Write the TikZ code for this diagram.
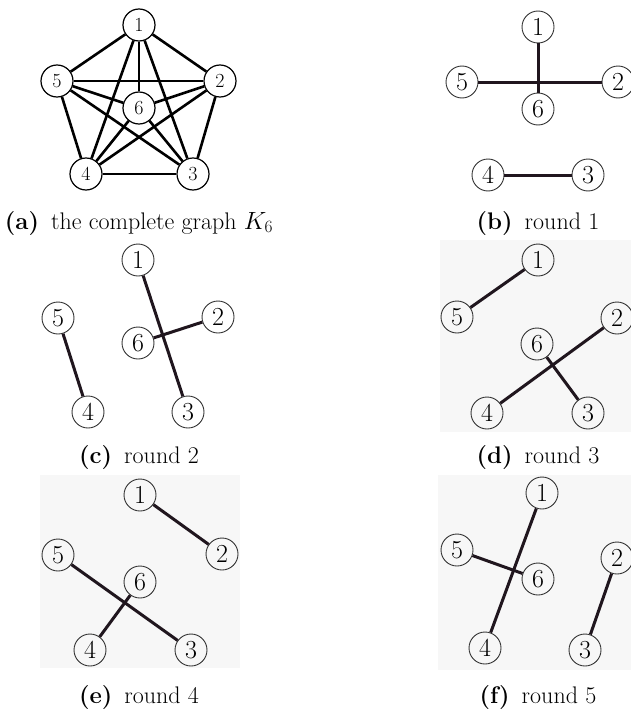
\documentclass[tikz,border=0pt]{standalone}
\definecolor{edgecol}{RGB}{32,22,30}
\definecolor{panelgray}{RGB}{247,247,247}
\newcommand{\sublabel}[1]{\textbf{(#1)}\hspace{0.5em}}
\begin{document}
\begin{tikzpicture}[x=1pt,y=-1pt,
  kv/.style={circle, draw, line width=1.2pt, minimum size=32pt, inner sep=0pt,
             font=\fontsize{20}{20}\selectfont},
  rv/.style={circle, draw=black!80, line width=0.9pt, minimum size=32pt, inner sep=0pt,
             font=\fontsize{26}{26}\selectfont},
  kedge/.style={line width=2.6pt},
  redge/.style={line width=3pt, draw=edgecol},
  subcap/.style={anchor=base, font=\fontsize{24}{28}\selectfont},
  panelbg/.style={fill=panelgray, draw=none}]
\useasboundingbox (0,0) rectangle (631,709);

% light backgrounds behind rounds 3, 4 and 5
\fill[panelbg] (440,240) rectangle (631,432);
\fill[panelbg] (40,475) rectangle (240,668);
\fill[panelbg] (438,475) rectangle (631,670);

% (a) complete graph K6
\node[kv] (a1) at (139,25) {1};
\node[kv] (a2) at (220,81) {2};
\node[kv] (a3) at (193,174) {3};
\node[kv] (a4) at (86,174) {4};
\node[kv] (a5) at (57,81) {5};
\node[kv] (a6) at (139,108) {6};
\foreach \u/\v in {1/2,1/3,1/4,1/5,1/6,2/3,2/4,2/5,2/6,3/4,3/5,3/6,4/5,4/6,5/6}
  \draw[kedge] (a\u) -- (a\v);
\node[subcap] (capa) at (139,229) {\sublabel{a}the complete graph $K_6$};

% (b) round 1
\node[rv] (b1) at (538,27) {1};
\node[rv] (b2) at (618,82) {2};
\node[rv] (b3) at (588,175) {3};
\node[rv] (b4) at (488,175) {4};
\node[rv] (b5) at (462,82) {5};
\node[rv] (b6) at (538,109) {6};
\draw[redge] (b1) -- (b6);
\draw[redge] (b5) -- (b2);
\draw[redge] (b4) -- (b3);
\node[subcap] (capb) at (538,229) {\sublabel{b}round 1};

% (c) round 2
\node[rv] (c1) at (138,260) {1};
\node[rv] (c2) at (218,317) {2};
\node[rv] (c3) at (188,412) {3};
\node[rv] (c4) at (88,412) {4};
\node[rv] (c5) at (58,318) {5};
\node[rv] (c6) at (138,343) {6};
\draw[redge] (c5) -- (c4);
\draw[redge] (c1) -- (c3);
\draw[redge] (c6) -- (c2);
\node[subcap] (capc) at (139,463) {\sublabel{c}round 2};

% (d) round 3
\node[rv] (d1) at (538,260) {1};
\node[rv] (d2) at (617,318) {2};
\node[rv] (d3) at (588,413) {3};
\node[rv] (d4) at (487,413) {4};
\node[rv] (d5) at (457,317) {5};
\node[rv] (d6) at (537,344) {6};
\draw[redge] (d5) -- (d1);
\draw[redge] (d2) -- (d4);
\draw[redge] (d6) -- (d3);
\node[subcap] (capd) at (538,463) {\sublabel{d}round 3};

% (e) round 4
\node[rv] (e1) at (140,495) {1};
\node[rv] (e2) at (222,554) {2};
\node[rv] (e3) at (191,650) {3};
\node[rv] (e4) at (90,650) {4};
\node[rv] (e5) at (58,555) {5};
\node[rv] (e6) at (140,582) {6};
\draw[redge] (e1) -- (e2);
\draw[redge] (e5) -- (e3);
\draw[redge] (e6) -- (e4);
\node[subcap] (cape) at (139,703) {\sublabel{e}round 4};

% (f) round 5
\node[rv] (f1) at (542,493) {1};
\node[rv] (f2) at (617,558) {2};
\node[rv] (f3) at (585,650) {3};
\node[rv] (f4) at (485,648) {4};
\node[rv] (f5) at (457,550) {5};
\node[rv] (f6) at (538,579) {6};
\draw[redge] (f1) -- (f4);
\draw[redge] (f5) -- (f6);
\draw[redge] (f2) -- (f3);
\node[subcap] (capf) at (538,703) {\sublabel{f}round 5};
\end{tikzpicture}
\end{document}
